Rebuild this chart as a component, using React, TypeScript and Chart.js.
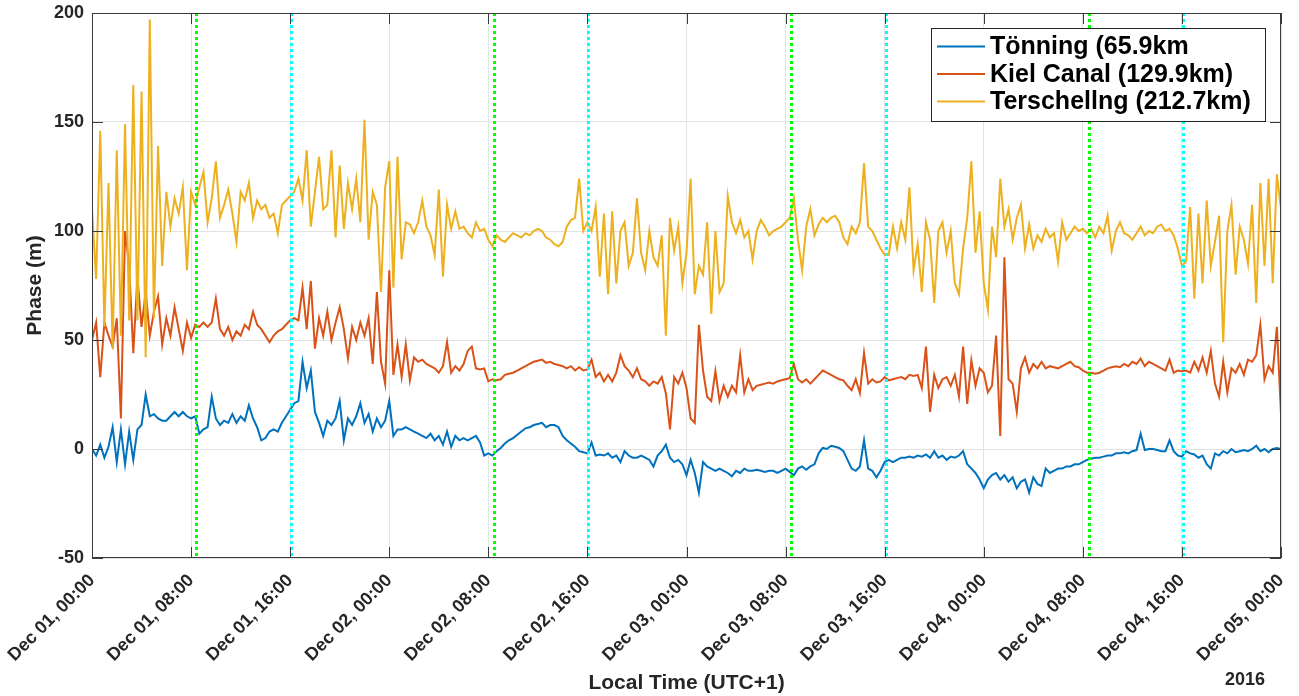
import React, { useEffect, useRef } from "react";
import { Chart, registerables } from "chart.js";

Chart.register(...registerables);

// ---------- data ----------
// samples every 20 minutes, starting Dec 01 00:00 (x in hours since start)
const SAMPLE_HOURS = 1 / 3;

const tonning: number[] = [
  0, -3, 2, -4, 1, 10, -6, 9, -7, 8, -5, 9,
  11, 25, 15, 16, 14, 13, 13, 15, 17, 15, 17, 15,
  14, 15, 7, 9, 10, 24, 14, 11, 13, 12, 16, 12,
  15, 13, 20, 14, 10, 4, 5, 8, 9, 8, 12, 15,
  18, 21, 22, 40, 28, 36, 17, 12, 6, 13, 11, 14,
  22, 4, 14, 11, 15, 21, 12, 16, 8, 14, 10, 13,
  22, 6, 9, 9, 10, 9, 8, 7, 6, 5, 7, 4,
  6, 2, 8, 1, 6, 4, 5, 4, 5, 6, 3, -3,
  -2, -3, -1, 0.5, 2.5, 4, 5, 6.5, 8, 9.5, 10, 11,
  11.5, 12, 10, 11, 11, 10, 6, 4, 2.5, 1, -1, -1.5,
  -2, 3, -3, -2.5, -3, -2, -4, -3, -6, -1, -3, -4,
  -4, -3, -4, -5, -8, -3, -1, 2, -4, -6, -5, -7,
  -12, -5, -11, -20, -6, -8, -9, -10, -9, -10, -11, -12.5,
  -10, -11, -9, -10, -10, -9.5, -10, -10.5, -10, -10, -11, -10,
  -9, -10.5, -12, -9, -8, -9.5, -8, -7, -2, 0.5, 0, 1.5,
  1, 0.5, -1, -5, -9, -10, -8, 4, -9, -10, -13, -10,
  -6, -5, -6, -5, -4, -4, -3.5, -4, -3, -3.5, -2.5, -4,
  -1, -4, -3, -5, -3.5, -4, -3, -1, -7, -9, -11, -14,
  -18, -14, -12, -11, -14, -12, -15, -13, -18, -15, -14, -20,
  -13, -16, -17, -9, -11, -10, -9, -9, -8, -8, -7, -7,
  -6, -5, -4.5, -4, -4, -3.5, -3, -3, -2, -2, -1.5, -2,
  -1, -0.5, 7, -0.5, 0, 0, -0.5, -1, -1, 4, -1, -3,
  -3.5, -1, -2, -2.5, -4, -3, -7, -9, -2, -3, -1, -2,
  0, -1.5, -1, -0.5, -1, 0, 1.5, -1, 0, -1.5, 0, 0.5,
  0,
];

const kielCanal: number[] = [
  50, 58, 33, 58, 52, 47, 60, 14, 100, 84, 44, 79,
  56, 72, 52, 63, 70, 48, 60, 52, 65, 55, 45, 58,
  51, 57, 56, 58, 56, 58, 69, 55, 52, 56, 50, 54,
  52, 57, 55, 63, 57, 55, 52, 49, 52, 54, 55, 57,
  59, 60, 59, 74, 55, 77, 46, 60, 52, 63, 50, 58,
  65, 55, 41.5, 56, 50, 58, 52, 60, 39, 72, 40, 30,
  82, 34, 48, 33, 48, 31.5, 42, 40, 41, 39, 38, 37,
  35, 38, 49, 35, 38, 36, 39, 45, 47, 37, 36.5, 37,
  31, 32, 31.5, 32, 34, 34.5, 35, 36, 37, 38, 39, 40,
  40.5, 41, 39.5, 40, 39, 38.5, 38, 37, 38, 36, 37.5, 36,
  36.5, 41, 33, 35, 31, 34, 31, 35, 43, 38, 36, 33,
  37, 32, 31, 29, 31, 30, 33, 25.6, 9, 33, 30, 35,
  28, 14, 12, 57, 36, 24, 22, 35.7, 22, 29, 24, 29,
  26, 43, 26, 32, 27, 29, 29.5, 30, 30.5, 30, 31, 31.5,
  32, 32.5, 39, 32, 30.5, 32, 30, 32, 34, 36, 35, 34,
  33, 32, 31.5, 29, 27, 32, 25.6, 44, 30, 32, 30.5, 31,
  33, 31.5, 32, 32.5, 33, 32, 34, 33.5, 34, 28, 47, 17,
  34, 28, 32, 33, 29, 34, 24, 47, 20.7, 40.7, 29, 37,
  35, 26, 29, 52, 6, 88, 32, 30, 17, 37, 42, 35,
  39, 37, 40, 37, 38, 37.5, 37, 38, 39, 40, 38, 37.5,
  36, 35, 35, 34.5, 35, 36, 37, 37.5, 38, 37.5, 39, 38,
  40, 39, 41.5, 38, 40, 39, 38, 37, 36, 41, 35, 36,
  35.7, 36, 35, 40, 36, 42, 35, 45, 30, 24, 40, 26,
  37, 35, 39, 34, 41, 40, 43, 57, 32, 38, 35, 56,
  16,
];

const terschelling: number[] = [
  110, 78, 146, 56, 122, 46, 137, 52, 149, 59, 167, 59,
  164, 42, 197, 60, 139, 84, 118, 102, 115, 108, 120, 82,
  118, 112, 120, 127, 104, 115, 132, 106, 112, 119, 108, 95,
  118, 114, 122, 106, 114, 110, 112, 106, 108, 99, 112, 114,
  116, 118, 124, 114, 137, 102, 118, 134, 110, 112, 137, 97,
  130, 101, 122, 110, 124, 104, 151, 96, 118, 112, 72, 120,
  132, 74, 134, 87, 104, 103, 99, 104, 114, 102, 98, 89,
  119, 79, 112, 101, 109, 101, 102, 99, 97, 104, 100, 101,
  96, 93, 98, 96, 95, 97, 99, 98, 97, 99, 98, 100,
  101, 100, 97, 96, 94, 93, 95, 102, 105, 106, 124, 100,
  104, 100, 111, 79, 108, 71, 109, 76, 100, 104, 84, 90,
  115, 90, 82, 100, 88, 84, 98, 52, 106, 91, 102, 76,
  90, 124, 71, 84, 80, 104, 62, 100, 72, 76, 116, 104,
  99, 105, 97, 100, 87, 100, 105, 102, 98, 100, 101, 102,
  104, 106, 115, 96, 82, 102, 110, 98, 103, 106, 104, 106,
  107, 104, 97, 94, 102, 99, 104, 131, 102, 100, 96, 92,
  89, 89, 102, 92, 104, 96, 120, 82, 94, 72, 104, 96,
  67, 100, 104, 90, 100, 76, 71, 92, 106, 132, 90, 109,
  76, 64, 102, 88, 124, 102, 110, 96, 106, 112, 92, 103,
  92, 98, 95, 101, 97, 99, 86, 104, 96, 99, 102, 100,
  101, 99, 101, 97, 102, 99, 107, 91, 100, 104, 99, 98,
  96, 99, 102, 98, 100, 99, 102, 103, 100, 101, 98, 92,
  84, 86, 111, 69, 108, 76, 114, 84, 95, 107, 49, 100,
  112, 80, 102, 96, 85, 112, 67, 122, 84, 124, 76, 126,
  110,
];

// sunrise (green) and sunset (cyan) markers, hours since Dec 01 00:00
const sunriseHours = [8.42, 32.43, 56.45, 80.47];
const sunsetHours = [16.08, 40.07, 64.07, 88.07];

const xTickHours = [0, 8, 16, 24, 32, 40, 48, 56, 64, 72, 80, 88, 96];
const xTickLabels = [
  "Dec 01, 00:00", "Dec 01, 08:00", "Dec 01, 16:00",
  "Dec 02, 00:00", "Dec 02, 08:00", "Dec 02, 16:00",
  "Dec 03, 00:00", "Dec 03, 08:00", "Dec 03, 16:00",
  "Dec 04, 00:00", "Dec 04, 08:00", "Dec 04, 16:00",
  "Dec 05, 00:00",
];
const yTicks = [-50, 0, 50, 100, 150, 200];

const seriesNames = ["Tönning (65.9km", "Kiel Canal (129.9km)", "Terschellng (212.7km)"];
const seriesColors = ["#0072BD", "#D95319", "#EDB120"];

// ---------- style ----------
const FONT = '"Liberation Sans", Arial, Helvetica, sans-serif';
const AXIS_COLOR = "#262626";
const W = 1299;
const H = 696;
const PLOT_TOP = 13;
const PLOT_BOTTOM = 558;
const PLOT_LEFT = 92;
const PLOT_RIGHT = 1281;

const toPoints = (values: number[]) =>
  values.map((v, i) => ({ x: i * SAMPLE_HOURS, y: v }));

const overlayPlugin = {
  id: "overlay",
  afterDatasetsDraw(chart: any) {
    const { ctx, chartArea, scales } = chart;
    const { left, right, top, bottom } = chartArea;
    const xs = scales.x;
    const ys = scales.y;
    ctx.save();
    // day/night markers
    const drawV = (h: number, color: string) => {
      const px = Math.round(xs.getPixelForValue(h)) + 0.5;
      ctx.strokeStyle = color;
      ctx.lineWidth = 3;
      ctx.setLineDash([3, 3]);
      ctx.beginPath();
      ctx.moveTo(px, top);
      ctx.lineTo(px, bottom);
      ctx.stroke();
    };
    sunriseHours.forEach((h) => drawV(h, "#00ff00"));
    sunsetHours.forEach((h) => drawV(h, "#00ffff"));
    ctx.setLineDash([]);

    // axes box
    ctx.strokeStyle = "#3a3a3a";
    ctx.lineWidth = 1;
    ctx.strokeRect(left + 0.5, top + 0.5, right - left - 1, bottom - top - 1);
    // inward ticks
    ctx.beginPath();
    xTickHours.forEach((h) => {
      const px = Math.round(xs.getPixelForValue(h)) + 0.5;
      ctx.moveTo(px, bottom);
      ctx.lineTo(px, bottom - 11);
      ctx.moveTo(px, top);
      ctx.lineTo(px, top + 11);
    });
    yTicks.forEach((v) => {
      const py = Math.round(ys.getPixelForValue(v)) + 0.5;
      ctx.moveTo(left, py);
      ctx.lineTo(left + 11, py);
      ctx.moveTo(right, py);
      ctx.lineTo(right - 11, py);
    });
    ctx.stroke();
    ctx.restore();
  },
  afterDraw(chart: any) {
    const { ctx, chartArea } = chart;
    const { left, right, top, bottom } = chartArea;
    ctx.save();
    // legend
    const lx = 931.5, ly = 28.5, lw = 334, lh = 93;
    ctx.fillStyle = "#ffffff";
    ctx.fillRect(lx, ly, lw, lh);
    ctx.strokeStyle = "#262626";
    ctx.lineWidth = 1;
    ctx.strokeRect(lx, ly, lw, lh);
    const rows = [46.5, 74, 101.5];
    ctx.font = `bold 25px ${FONT}`;
    ctx.textBaseline = "middle";
    ctx.textAlign = "left";
    seriesNames.forEach((name, i) => {
      ctx.strokeStyle = seriesColors[i];
      ctx.lineWidth = 2;
      ctx.beginPath();
      ctx.moveTo(937, rows[i]);
      ctx.lineTo(985, rows[i]);
      ctx.stroke();
      ctx.fillStyle = "#000000";
      ctx.fillText(name, 990, rows[i] + 1);
    });

    // axis titles
    ctx.fillStyle = AXIS_COLOR;
    ctx.font = `bold 21px ${FONT}`;
    ctx.textAlign = "center";
    ctx.textBaseline = "middle";
    ctx.fillText("Local Time (UTC+1)", (left + right) / 2, 683);
    ctx.save();
    ctx.translate(35, (top + bottom) / 2);
    ctx.rotate(-Math.PI / 2);
    ctx.fillText("Phase (m)", 0, 0);
    ctx.restore();
    ctx.font = `bold 18px ${FONT}`;
    ctx.fillText("2016", 1245, 680);
    ctx.restore();
  },
};

export default function App() {
  const canvasRef = useRef<HTMLCanvasElement | null>(null);

  useEffect(() => {
    const canvas = canvasRef.current;
    if (!canvas) return;
    const datasets = [tonning, kielCanal, terschelling].map((vals, i) => ({
      label: seriesNames[i],
      data: toPoints(vals),
      borderColor: seriesColors[i],
      backgroundColor: seriesColors[i],
      borderWidth: 2,
      pointRadius: 0,
      tension: 0,
      fill: false,
      order: 2 - i,
    }));
    const chart = new Chart(canvas, {
      type: "line",
      data: { datasets },
      options: {
        responsive: false,
        animation: false,
        devicePixelRatio: 1,
        parsing: false,
        normalized: true,
        layout: {
          padding: { top: PLOT_TOP, right: W - PLOT_RIGHT, left: 0, bottom: 0 },
        },
        plugins: {
          legend: { display: false },
          tooltip: { enabled: false },
          title: { display: false },
        },
        scales: {
          x: {
            type: "linear",
            min: 0,
            max: 96,
            afterBuildTicks: (scale: any) => {
              scale.ticks = xTickHours.map((v) => ({ value: v }));
            },
            afterFit: (scale: any) => {
              scale.height = H - PLOT_BOTTOM;
              scale.paddingLeft = 0;
              scale.paddingRight = 0;
            },
            ticks: {
              autoSkip: false,
              maxRotation: 45,
              minRotation: 45,
              padding: 12,
              color: AXIS_COLOR,
              font: { family: FONT, size: 18, weight: "bold" },
              callback: (value: any) => {
                const idx = xTickHours.indexOf(Number(value));
                return idx >= 0 ? xTickLabels[idx] : "";
              },
            },
            grid: { color: "#e2e2e2", lineWidth: 1, drawTicks: false },
            border: { display: false },
          },
          y: {
            type: "linear",
            min: -50,
            max: 200,
            afterBuildTicks: (scale: any) => {
              scale.ticks = yTicks.map((v) => ({ value: v }));
            },
            afterFit: (scale: any) => {
              scale.width = PLOT_LEFT;
              scale.paddingTop = 0;
              scale.paddingBottom = 0;
            },
            ticks: {
              padding: 8,
              color: AXIS_COLOR,
              font: { family: FONT, size: 18, weight: "bold" },
              callback: (value: any) => String(value),
            },
            grid: { color: "#e2e2e2", lineWidth: 1, drawTicks: false },
            border: { display: false },
          },
        },
      },
      plugins: [overlayPlugin],
    } as any);
    return () => chart.destroy();
  }, []);

  return (
    <div style={{ position: "absolute", left: 0, top: 0, width: W, height: H, background: "#ffffff" }}>
      <canvas ref={canvasRef} width={W} height={H} style={{ display: "block", width: W, height: H }} />
    </div>
  );
}
